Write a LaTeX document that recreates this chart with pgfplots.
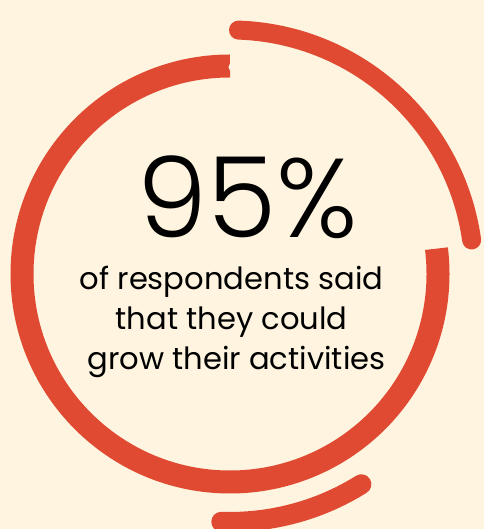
\documentclass[border=0pt]{standalone}
\usepackage{pgfplots}
\pgfplotsset{compat=1.18}
\usepackage{fontspec}
\setmainfont{Poppins}
\newfontfamily\thinfont{Poppins}[UprightFont={* Light}]
\definecolor{cream}{HTML}{FEF4E0}
\definecolor{brick}{HTML}{E04A32}

\begin{document}
\begin{tikzpicture}
\begin{axis}[
  scale only axis,
  width=242pt, height=264.5pt,
  xmin=0, xmax=484,
  ymin=0, ymax=529,
  hide axis,
]
% background
\fill[cream] (axis cs:0,0) rectangle (axis cs:484,529);

% main ring (centre 230,255)
\draw[brick, line width=11.5pt] (axis cs:230,463) arc[start angle=90, end angle=367, radius=208];
% torn notch at the top end of the ring
\fill[cream] (axis cs:234,462) circle[radius=5.5];
% outer arc, top right
\draw[brick, line width=9.5pt, line cap=round] (axis cs:238.5,498.9) arc[start angle=88, end angle=8, radius=244];
% small arc, bottom
\draw[brick, line width=10pt, line cap=round] (axis cs:221.3,7.2) arc[start angle=-92, end angle=-58, radius=248];

% labels
\node[anchor=base, inner sep=0pt, font=\thinfont\fontsize{56}{56}\selectfont] at (axis cs:248,291) {95\%};
\node[anchor=base, inner sep=0pt, font=\fontsize{15.3}{18}\selectfont] at (axis cs:231.5,239) {of respondents said};
\node[anchor=base, inner sep=0pt, font=\fontsize{15.3}{18}\selectfont] at (axis cs:231.5,199) {that they could};
\node[anchor=base, inner sep=0pt, font=\fontsize{15.3}{18}\selectfont] at (axis cs:236.5,159) {grow their activities};
\end{axis}
\pgfresetboundingbox
\path[use as bounding box] (current axis.south west) rectangle (current axis.north east);
\end{tikzpicture}
\end{document}
